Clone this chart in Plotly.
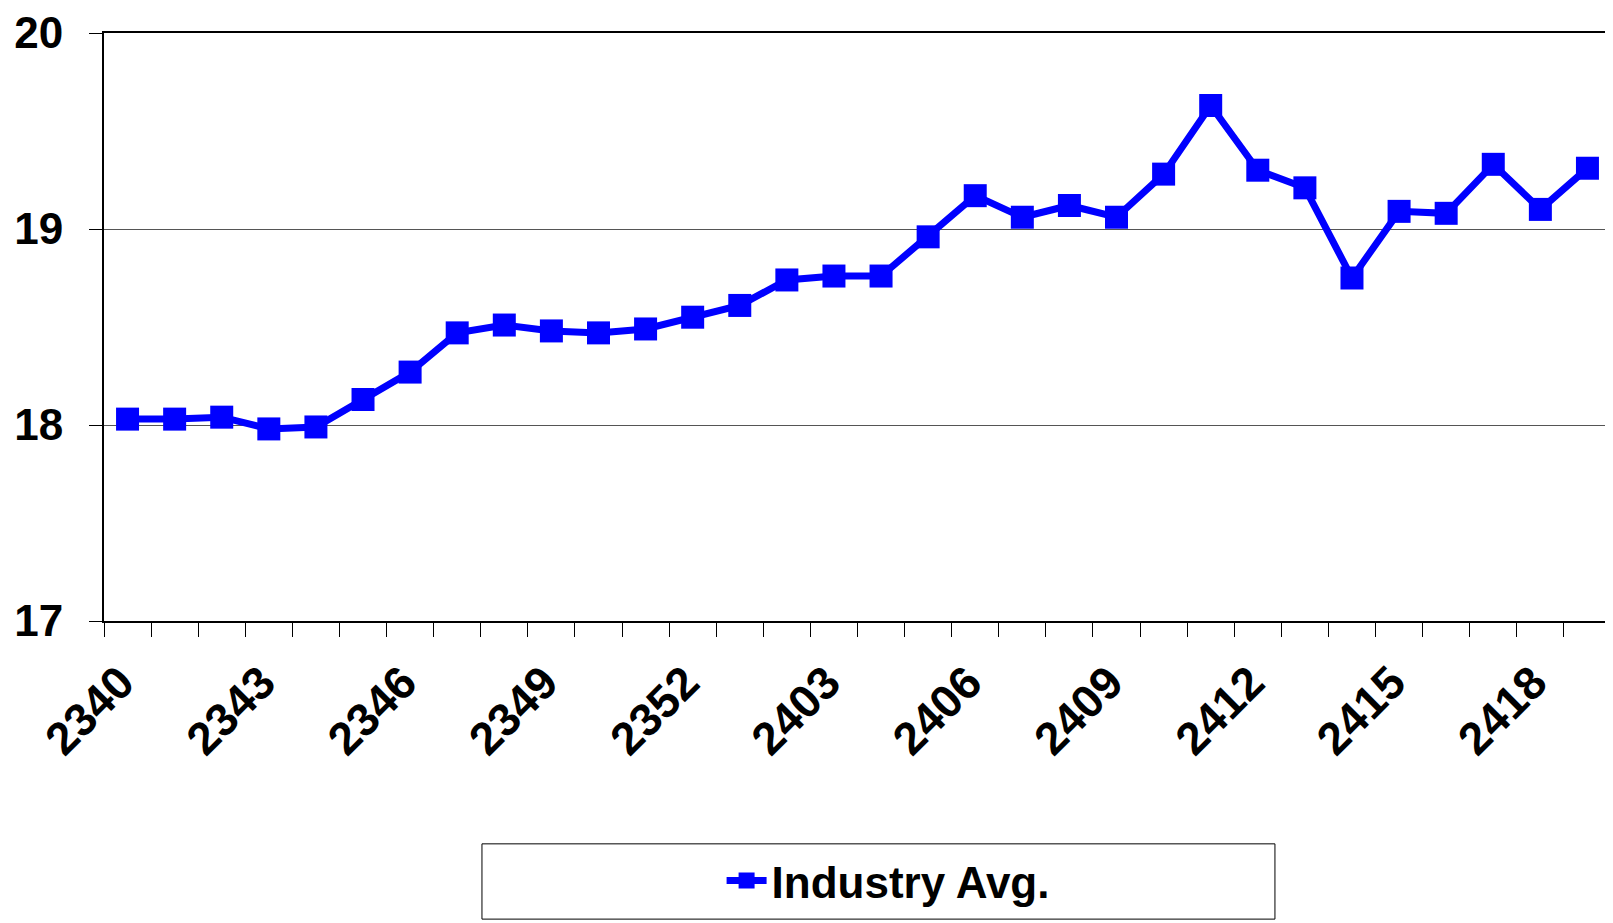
import plotly.graph_objects as go

categories = [str(c) for c in list(range(2340, 2353)) + list(range(2401, 2420))]
industry_avg = [18.03, 18.03, 18.04, 17.98, 17.99, 18.13, 18.27, 18.47, 18.51, 18.48,
                18.47, 18.49, 18.55, 18.61, 18.74, 18.76, 18.76, 18.96, 19.17, 19.06,
                19.12, 19.06, 19.28, 19.63, 19.30, 19.21, 18.75, 19.09, 19.08, 19.33,
                19.10, 19.31]
tick_labels = [c if i % 3 == 0 else "" for i, c in enumerate(categories)]
y_ticks = [17, 18, 19, 20]
series_name = "Industry Avg."

FONT = "Liberation Sans, Arial, sans-serif"
BLUE = "#0000FF"

fig = go.Figure()
fig.add_trace(go.Scatter(
    x=categories, y=industry_avg, name=series_name,
    mode="lines+markers",
    line=dict(color=BLUE, width=7),
    marker=dict(symbol="square", size=23, color=BLUE, line=dict(width=0)),
))

fig.update_layout(
    width=1605, height=915,
    margin=dict(l=96, r=2, t=25, b=302, autoexpand=False),
    paper_bgcolor="white", plot_bgcolor="white",
    font=dict(family=FONT, size=44, color="black", weight="bold"),
    showlegend=True,
    legend=dict(
        x=0.5203, y=-0.442, xanchor="center", yanchor="middle",
        bgcolor="rgba(0,0,0,0)", borderwidth=0,
        font=dict(family=FONT, size=44, color="black", weight="bold"),
        itemwidth=40,
    ),
    shapes=[dict(type="rect", xref="paper", yref="paper",
                 x0=0.2508, x1=0.777, y0=-0.507, y1=-0.379,
                 line=dict(color="black", width=1), fillcolor="rgba(0,0,0,0)")],
)

fig.update_xaxes(
    type="category", categoryorder="array", categoryarray=categories,
    tickmode="array", tickvals=categories, ticktext=tick_labels,
    tickson="boundaries", ticks="outside", ticklen=14, tickwidth=1, tickcolor="black",
    tickangle=-45, showgrid=False, zeroline=False, automargin=False,
    showline=True, linecolor="black", linewidth=2, mirror=True,
    ticklabelshift=-7, ticklabelstandoff=14, ticklabeloverflow="allow",
    tickfont=dict(family=FONT, size=46, color="black", weight="bold"),
    range=[-0.5, len(categories) - 0.5],
)
fig.update_yaxes(
    range=[17, 20], tickmode="array", tickvals=y_ticks,
    ticktext=[str(v) for v in y_ticks],
    ticks="outside", ticklen=13, tickwidth=1, tickcolor="black",
    showgrid=True, gridcolor="#555555", gridwidth=1, zeroline=False, automargin=False,
    showline=True, linecolor="black", linewidth=2, mirror=True,
    ticklabelstandoff=17, ticklabeloverflow="allow",
    tickfont=dict(family=FONT, size=44, color="black", weight="bold"),
)

fig.write_html("out.html")
